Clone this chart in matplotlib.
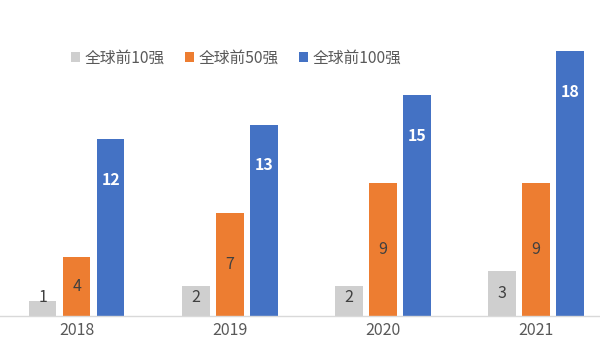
import matplotlib
matplotlib.use("Agg")
import matplotlib.pyplot as plt
import numpy as np

plt.rcParams['font.family'] = ['Noto Sans CJK SC', 'DejaVu Sans']

years = ['2018', '2019', '2020', '2021']
top10 = [1, 2, 2, 3]
top50 = [4, 7, 9, 9]
top100 = [12, 13, 15, 18]
series_names = ['全球前10强', '全球前50强', '全球前100强']

colors = ['#CFCFCF', '#ED7D31', '#4472C4']

fig = plt.figure(figsize=(6.0, 3.47), dpi=100)
ax = fig.add_axes([0, 31.5 / 347, 1, 293.4 / 347])

x = np.arange(len(years))
w = 0.178
step = 0.222

b1 = ax.bar(x - step, top10, w, color=colors[0], label=series_names[0])
b2 = ax.bar(x, top50, w, color=colors[1], label=series_names[1])
b3 = ax.bar(x + step, top100, w, color=colors[2], label=series_names[2])

# value labels: light bars centred, blue bars near the top
for xi, v in zip(x - step, top10):
    ax.text(xi, max(v / 2, 1.2), str(v), ha='center', va='center',
            fontsize=11.5, color='#404040')
for xi, v in zip(x, top50):
    ax.text(xi, v / 2, str(v), ha='center', va='center',
            fontsize=11.5, color='#404040')
for xi, v in zip(x + step, top100):
    ax.annotate(str(v), (xi, v), xytext=(0, -29), textcoords='offset points',
                ha='center', va='center', fontsize=11.5, color='white',
                fontweight='bold')

ax.set_xlim(-0.502, -0.502 + 600 / 153.07)
ax.set_ylim(0, 20)
ax.set_xticks(x)
ax.set_xticklabels(years, fontsize=11.5, color='#595959')
ax.tick_params(axis='x', length=0, pad=5)
ax.set_yticks([])
for side in ['top', 'right', 'left']:
    ax.spines[side].set_visible(False)
ax.spines['bottom'].set_color('#D9D9D9')
ax.spines['bottom'].set_linewidth(1.0)

leg = ax.legend(handles=[b1, b2, b3], loc='center left',
                bbox_to_anchor=(71 / 600, 1 - 58 / 347), bbox_transform=fig.transFigure,
                ncol=3, frameon=False, fontsize=11.3,
                handlelength=0.55, handleheight=0.55, handletextpad=0.3,
                columnspacing=1.3, borderaxespad=0, borderpad=0)
for t in leg.get_texts():
    t.set_color('#595959')

fig.savefig('out.png', dpi=100)
